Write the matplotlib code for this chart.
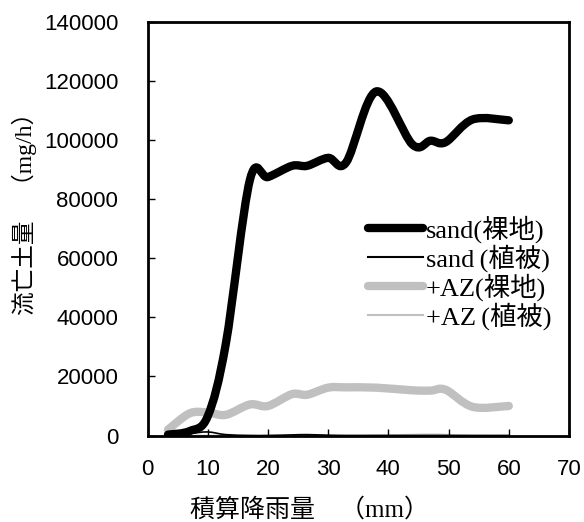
import numpy as np
import matplotlib
matplotlib.use("Agg")
import matplotlib.pyplot as plt
from matplotlib.path import Path
from matplotlib.patches import PathPatch
from matplotlib.lines import Line2D

# ---- data ----
rain = [3.4, 7, 10, 13, 17, 20, 24, 26.5, 30, 33, 38, 44, 47, 49.5, 54, 60]
sand_bare = [300, 1500, 6500, 31000, 86500, 87500, 91300, 91300, 94000, 92500,
             116500, 98500, 99800, 99300, 107000, 106700]
sand_veg = [300, 700, 1200, 300, 0, 0, 200, 300, 100, 0, 0, 0, 0, 0, 0, 0]
az_bare = [2000, 7500, 7800, 7000, 10500, 10000, 14000, 13800, 16200, 16300,
           16200, 15300, 15200, 15500, 9700, 10000]
az_veg = [0, 0, 0, 0, 0, 0, 0, 0, 0, 0, 100, 300, 400, 300, 0, 0]

labels = ["sand(裸地)", "sand\u2009(植被)", "+AZ(裸地)", "+AZ\u2009(植被)"]
xticks = [0, 10, 20, 30, 40, 50, 60, 70]
yticks = [0, 20000, 40000, 60000, 80000, 100000, 120000, 140000]

SERIF = ["Liberation Serif", "Noto Sans CJK JP"]
SANS = ["Liberation Sans", "Noto Sans CJK JP"]


def smooth_path(x, y):
    """Catmull-Rom style smoothed line (like a spreadsheet 'smoothed line')."""
    P = np.column_stack([x, y]).astype(float)
    n = len(P)
    verts = [P[0]]
    codes = [Path.MOVETO]
    for i in range(n - 1):
        p0 = P[i - 1] if i > 0 else P[i]
        p1 = P[i]
        p2 = P[i + 1]
        p3 = P[i + 2] if i + 2 < n else P[i + 1]
        c1 = p1 + (p2 - p0) / 6.0
        c2 = p2 - (p3 - p1) / 6.0
        verts += [c1, c2, p2]
        codes += [Path.CURVE4] * 3
    return Path(np.array(verts), codes)


fig = plt.figure(figsize=(5.84, 5.22), dpi=100)
ax = fig.add_axes([0.2526, 0.1657, 0.7217, 0.7922])

series = [
    (az_veg, "#c0c0c0", 1.2),
    (sand_veg, "#000000", 1.2),
    (az_bare, "#c0c0c0", 6.0),
    (sand_bare, "#000000", 6.0),
]
for vals, col, lw in series:
    patch = PathPatch(smooth_path(rain, vals), fill=False, edgecolor=col, lw=lw,
                      capstyle="round", joinstyle="round", transform=ax.transData)
    ax.add_patch(patch)

ax.set_xlim(0, 70)
ax.set_ylim(0, 140000)
ax.set_xticks(xticks)
ax.set_yticks(yticks)
ax.set_xticklabels([str(t) for t in xticks], family=SANS, fontsize=16)
ax.set_yticklabels([str(t) for t in yticks], family=SANS, fontsize=16)
ax.tick_params(axis="y", direction="in", length=5, width=1, pad=21)
ax.tick_params(axis="x", direction="in", length=5, width=1, pad=17)
for s in ax.spines.values():
    s.set_linewidth(2)

ax.set_xlabel("積算降雨量\u3000（mm）", family=SERIF, fontsize=18, va="top")
ax.xaxis.set_label_coords(0.385, -0.151)
ax.set_ylabel("流亡土量\u3000（mg/h）", family=SERIF, fontsize=17, va="bottom")
ax.yaxis.set_label_coords(-0.262, 0.55)

handles = [
    Line2D([], [], color="#000000", lw=6, solid_capstyle="round"),
    Line2D([], [], color="#000000", lw=1.5),
    Line2D([], [], color="#c0c0c0", lw=6, solid_capstyle="round"),
    Line2D([], [], color="#c0c0c0", lw=1.5),
]
leg = ax.legend(handles, labels, loc="upper left", bbox_to_anchor=(0.522, 0.532),
                frameon=False, prop={"family": SERIF, "size": 19},
                handlelength=2.1, handletextpad=0.1, labelspacing=0.05,
                borderpad=0, borderaxespad=0)

fig.savefig("out.png", dpi=100)
